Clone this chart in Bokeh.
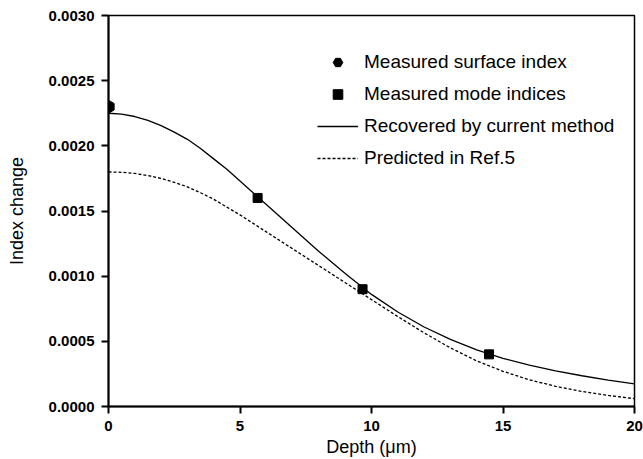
import math
from bokeh.plotting import figure
from bokeh.models import Range1d, Legend, LegendItem, FixedTicker, PrintfTickFormatter
from bokeh.embed import file_html
from bokeh.resources import INLINE

# ---- data ----
surface_depth = [0.0]
surface_index = [0.0023]

mode_depth = [5.67, 9.66, 14.47]
mode_index = [0.0016, 0.0009, 0.0004]

rec_depth = [0, 0.5, 1, 1.5, 2, 2.5, 3, 3.5, 4, 4.5, 5, 6, 7, 8, 9, 10, 11, 12, 13, 14,
             15, 16, 17, 18, 19, 20]
rec_index = [0.00225, 0.002243, 0.002225, 0.002195, 0.002155, 0.002105, 0.00205, 0.00198,
             0.0019, 0.00182, 0.00173, 0.00155, 0.00137, 0.00119, 0.00102, 0.00086,
             0.000725, 0.00061, 0.000515, 0.000435, 0.00037, 0.000317, 0.000273,
             0.000236, 0.000203, 0.000174]

pred_depth = [0, 0.5, 1, 1.5, 2, 2.5, 3, 3.5, 4, 4.5, 5, 6, 7, 8, 9, 10, 11, 12, 13, 14,
              15, 16, 17, 18, 19, 20]
pred_index = [0.0018, 0.001797, 0.001788, 0.001772, 0.00175, 0.00172, 0.001685, 0.00164,
              0.00159, 0.00153, 0.00147, 0.00134, 0.00121, 0.00108, 0.00095, 0.00082,
              0.00069, 0.000565, 0.00045, 0.00035, 0.00027, 0.000205, 0.000155,
              0.000115, 0.000085, 0.00006]

x_ticks = [0, 5, 10, 15, 20]
y_ticks = [0.0, 0.0005, 0.0010, 0.0015, 0.0020, 0.0025, 0.0030]

FONT = "Liberation Sans"

p = figure(width=643, height=459, output_backend="svg", toolbar_location=None,
           x_range=Range1d(0, 20), y_range=Range1d(0, 0.003),
           min_border_left=108, min_border_right=9, min_border_top=15, min_border_bottom=53)

p.grid.visible = False
p.background_fill_color = "white"
p.border_fill_color = "white"
p.outline_line_color = "black"
p.outline_line_width = 1.5

r_rec = p.line(rec_depth, rec_index, line_color="black", line_width=1.3)
r_pred = p.line(pred_depth, pred_index, line_color="black", line_width=1.3, line_dash="3 2")
r_surf = p.scatter(surface_depth, surface_index, marker="hex", angle=math.pi / 2,
                   size=13, fill_color="black", line_color="black")
r_mode = p.scatter(mode_depth, mode_index, marker="square", size=9,
                   fill_color="black", line_color="black")

for ax in (p.xaxis[0], p.yaxis[0]):
    ax.axis_line_width = 2
    ax.major_tick_line_width = 2
    ax.major_tick_out = 7
    ax.major_tick_in = 0
    ax.minor_tick_line_color = None
    ax.major_label_text_font = FONT
    ax.major_label_text_font_style = "bold"
    ax.major_label_text_font_size = "15px"
    ax.major_label_text_color = "black"
    ax.axis_label_text_font = FONT
    ax.axis_label_text_font_style = "normal"
    ax.axis_label_text_font_size = "18px"
    ax.axis_label_text_color = "black"

p.xaxis.ticker = FixedTicker(ticks=x_ticks)
p.yaxis.ticker = FixedTicker(ticks=y_ticks)
p.yaxis.formatter = PrintfTickFormatter(format="%.4f")
p.xaxis.axis_label = "Depth (\u03bcm)"
p.yaxis.axis_label = "Index change"
p.xaxis.major_label_standoff = 7
p.xaxis.axis_label_standoff = 3
p.yaxis.major_label_standoff = 7
p.yaxis.axis_label_standoff = 19

legend = Legend(items=[
    LegendItem(label="Measured surface index", renderers=[r_surf]),
    LegendItem(label="Measured mode indices", renderers=[r_mode]),
    LegendItem(label="Recovered by current method", renderers=[r_rec]),
    LegendItem(label="Predicted in Ref.5", renderers=[r_pred]),
], location=(209, 236))
legend.border_line_color = None
legend.background_fill_alpha = 0
legend.padding = 0
legend.margin = 0
legend.spacing = 8
legend.glyph_width = 41
legend.glyph_height = 24
legend.label_height = 24
legend.label_standoff = 6
legend.label_text_font = FONT
legend.label_text_font_size = "19px"
legend.label_text_color = "black"
p.add_layout(legend, "center")

open("out.html", "w").write(file_html(p, INLINE))
